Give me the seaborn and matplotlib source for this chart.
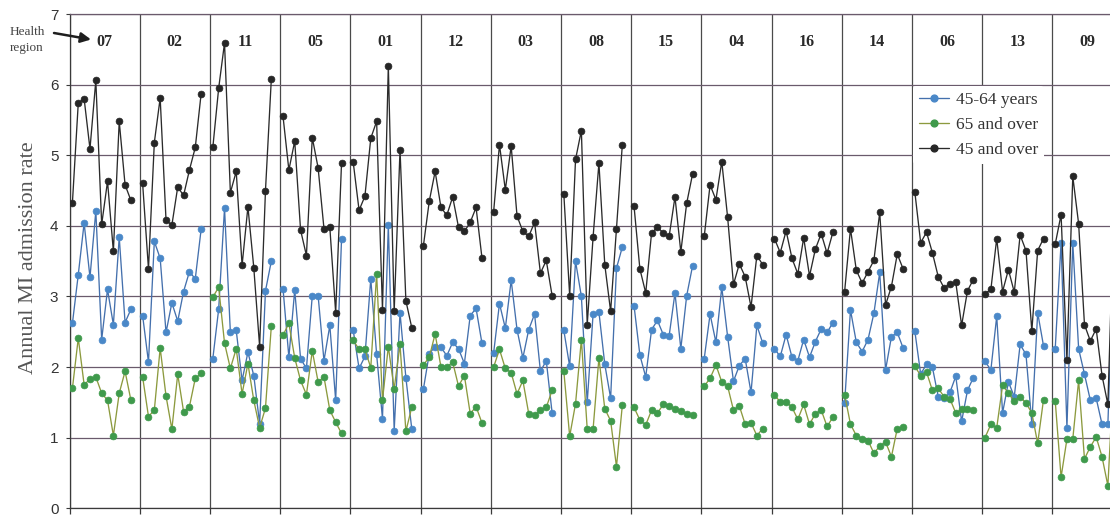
import numpy as np
import pandas as pd
import matplotlib
matplotlib.use("Agg")
import matplotlib.pyplot as plt
import seaborn as sns
from matplotlib.lines import Line2D

# ---------------- data ----------------
regions = ["07", "02", "11", "05", "01", "12", "03", "08", "15", "04", "16", "14", "06", "13", "09"]

rate_45_64 = [
    [2.62, 3.31, 4.04, 3.27, 4.21, 2.39, 3.10, 2.60, 3.84, 2.63, 2.82],
    [2.73, 2.07, 3.78, 3.54, 2.49, 2.91, 2.65, 3.07, 3.35, 3.25, 3.95],
    [2.12, 2.82, 4.25, 2.49, 2.52, 1.81, 2.21, 1.88, 1.20, 3.08, 3.50],
    [3.11, 2.14, 3.09, 2.12, 1.98, 3.01, 3.01, 2.09, 2.59, 1.53, 3.81],
    [2.52, 1.98, 2.15, 3.25, 2.18, 1.27, 4.01, 1.10, 2.77, 1.85, 1.13],
    [1.69, 2.19, 2.29, 2.28, 2.16, 2.35, 2.26, 2.05, 2.73, 2.83, 2.34],
    [2.20, 2.90, 2.55, 3.23, 2.53, 2.13, 2.53, 2.75, 1.94, 2.09, 1.35],
    [2.52, 2.01, 3.50, 3.00, 1.50, 2.75, 2.78, 2.04, 1.56, 3.40, 3.70],
    [2.87, 2.17, 1.86, 2.53, 2.66, 2.46, 2.44, 3.05, 2.26, 3.01, 3.43],
    [2.12, 2.75, 2.35, 3.13, 2.43, 1.80, 2.02, 2.12, 1.64, 2.59, 2.34],
    [2.26, 2.15, 2.46, 2.14, 2.09, 2.39, 2.14, 2.36, 2.54, 2.49, 2.63],
    [1.49, 2.81, 2.35, 2.22, 2.39, 2.76, 3.34, 1.96, 2.43, 2.49, 2.27],
    [2.51, 1.90, 2.04, 2.00, 1.58, 1.56, 1.64, 1.87, 1.23, 1.67, 1.85],
    [2.08, 1.96, 2.72, 1.35, 1.79, 1.58, 2.32, 2.18, 1.20, 2.77, 2.30],
    [2.26, 3.76, 1.14, 3.76, 2.26, 1.90, 1.53, 1.56, 1.19, 1.19, 3.62],
]

rate_65_over = [
    [1.70, 2.41, 1.75, 1.83, 1.86, 1.63, 1.53, 1.03, 1.63, 1.94, 1.53],
    [1.86, 1.30, 1.39, 2.27, 1.59, 1.12, 1.90, 1.37, 1.44, 1.84, 1.91],
    [2.99, 3.13, 2.34, 1.98, 2.26, 1.62, 2.05, 1.53, 1.14, 1.42, 2.58],
    [2.45, 2.62, 2.13, 1.81, 1.61, 2.23, 1.79, 1.86, 1.39, 1.22, 1.06],
    [2.38, 2.25, 2.25, 1.99, 3.32, 1.53, 2.29, 1.69, 2.32, 1.09, 1.43],
    [2.03, 2.14, 2.47, 2.00, 2.00, 2.07, 1.73, 1.88, 1.34, 1.44, 1.21],
    [2.00, 2.25, 1.98, 1.92, 1.62, 1.81, 1.34, 1.32, 1.39, 1.43, 1.67],
    [1.94, 1.02, 1.48, 2.39, 1.12, 1.12, 2.13, 1.41, 1.24, 0.59, 1.46],
    [1.43, 1.25, 1.18, 1.39, 1.35, 1.47, 1.45, 1.41, 1.38, 1.33, 1.32],
    [1.73, 1.84, 2.03, 1.79, 1.73, 1.39, 1.45, 1.19, 1.21, 1.03, 1.13],
    [1.60, 1.51, 1.51, 1.43, 1.26, 1.47, 1.19, 1.34, 1.39, 1.16, 1.29],
    [1.61, 1.19, 1.03, 0.98, 0.96, 0.78, 0.88, 0.94, 0.73, 1.13, 1.15],
    [2.01, 1.88, 1.93, 1.67, 1.70, 1.58, 1.55, 1.35, 1.40, 1.41, 1.39],
    [1.00, 1.19, 1.14, 1.74, 1.63, 1.52, 1.58, 1.49, 1.35, 0.92, 1.54],
    [1.52, 0.44, 0.98, 0.98, 1.81, 0.70, 0.87, 1.01, 0.73, 0.32, 1.90],
]

rate_45_over = [
    [4.33, 5.74, 5.80, 5.09, 6.06, 4.02, 4.63, 3.64, 5.48, 4.58, 4.36],
    [4.60, 3.39, 5.18, 5.81, 4.08, 4.01, 4.55, 4.43, 4.79, 5.11, 5.87],
    [5.11, 5.95, 6.59, 4.47, 4.77, 3.44, 4.27, 3.41, 2.29, 4.50, 6.08],
    [5.55, 4.79, 5.20, 3.94, 3.58, 5.25, 4.82, 3.96, 3.98, 2.77, 4.89],
    [4.90, 4.22, 4.42, 5.24, 5.48, 2.81, 6.27, 2.79, 5.08, 2.94, 2.56],
    [3.72, 4.35, 4.77, 4.26, 4.15, 4.41, 3.98, 3.92, 4.05, 4.26, 3.55],
    [4.20, 5.15, 4.51, 5.13, 4.14, 3.92, 3.85, 4.05, 3.33, 3.51, 3.01],
    [4.45, 3.01, 4.94, 5.35, 2.60, 3.84, 4.89, 3.45, 2.79, 3.96, 5.15],
    [4.28, 3.39, 3.05, 3.90, 3.98, 3.90, 3.85, 4.41, 3.63, 4.32, 4.73],
    [3.85, 4.58, 4.37, 4.91, 4.12, 3.17, 3.46, 3.28, 2.85, 3.58, 3.45],
    [3.82, 3.62, 3.93, 3.54, 3.32, 3.83, 3.29, 3.67, 3.89, 3.61, 3.91],
    [3.07, 3.96, 3.37, 3.19, 3.35, 3.51, 4.19, 2.88, 3.14, 3.60, 3.39],
    [4.48, 3.76, 3.91, 3.62, 3.28, 3.12, 3.18, 3.20, 2.59, 3.08, 3.24],
    [3.04, 3.10, 3.82, 3.07, 3.38, 3.06, 3.87, 3.65, 2.51, 3.65, 3.82],
    [3.74, 4.16, 2.10, 4.70, 4.03, 2.60, 2.37, 2.54, 1.88, 1.47, 4.18],
]

series_labels = ["45-64 years", "65 and over", "45 and over"]
y_ticks = [0, 1, 2, 3, 4, 5, 6, 7]
y_label = "Annual MI admission rate"
region_caption = "Health\nregion"

# ---------------- style ----------------
sns.set_theme(style="white")
plt.rcParams["font.family"] = ["Liberation Serif", "DejaVu Serif"]

SLOTS = 12  # slots per region on the x scale

def to_long(values):
    rows = []
    for r_i, (reg, vals) in enumerate(zip(regions, values)):
        for k, v in enumerate(vals):
            rows.append({"region": reg, "x": r_i * SLOTS + 0.5 + k, "rate": v})
    return pd.DataFrame(rows)

W, H = 1110, 516
fig = plt.figure(figsize=(W / 100, H / 100), dpi=100)
ax = fig.add_axes([69.5 / W, 7.7 / H, (SLOTS * len(regions) * 5.85) / W, 494.3 / H])

styles = [
    # (values, line colour, marker colour)
    (rate_45_64, "#4470ad", "#4a88c8"),
    (rate_65_over, "#8c9a3e", "#3f9a4c"),
    (rate_45_over, "#2b2b2b", "#262626"),
]
MS = 4.9
LW = 0.95
for vals, lc, mc in styles:
    df = to_long(vals)
    sns.lineplot(data=df, x="x", y="rate", units="region", estimator=None,
                 color=lc, marker="o", markersize=MS, linewidth=LW,
                 markerfacecolor=mc, markeredgecolor=mc, markeredgewidth=0.5,
                 ax=ax, legend=False, zorder=3)

# axes, grid
n_slots = SLOTS * len(regions)
ax.set_xlim(0, n_slots)
ax.set_ylim(0, 7)
ax.set_xticks(np.arange(0, n_slots + 1, SLOTS))
ax.set_yticks(y_ticks)
ax.set_yticklabels([str(t) for t in y_ticks])
ax.grid(axis="y", color="#6a5a6c", linewidth=0.9)
ax.grid(axis="x", color="#4a4a4a", linewidth=0.9)
ax.set_axisbelow(True)
ax.set_xlabel("")
ax.set_ylabel("")
for side in ["left", "bottom", "top"]:
    ax.spines[side].set_visible(True)
    ax.spines[side].set_linewidth(0.9)
ax.spines["left"].set_color("#3a3a3a")
ax.spines["bottom"].set_color("#3a3a3a")
ax.spines["top"].set_color("#6a5a6c")
ax.spines["right"].set_visible(False)
ax.tick_params(axis="x", bottom=True, length=4.5, width=0.9, color="#3a3a3a",
               direction="out", labelbottom=False)
ax.tick_params(axis="y", left=True, length=3, width=0.8, color="#3a3a3a",
               direction="out", pad=5, labelsize=11, labelcolor="#333333")
for lbl in ax.get_yticklabels():
    lbl.set_family(["Liberation Sans", "DejaVu Sans"])

# region labels
for r_i, reg in enumerate(regions):
    ax.text(r_i * SLOTS + SLOTS / 2, 6.6, reg, ha="center", va="center",
            fontsize=11.5, fontweight="bold", color="#2a2a2a")

# y label
fig.text(29 / W, 1 - 258 / H, y_label, rotation=90, ha="center", va="center",
         fontsize=16, color="#555555")

# "Health region" caption with arrow
fig.text(27 / W, 1 - 40 / H, region_caption, ha="center", va="center",
         fontsize=9.5, color="#444444", linespacing=1.5)
ax.annotate("", xy=(91 / W, 1 - 39.5 / H), xytext=(54 / W, 1 - 33 / H),
            xycoords="figure fraction", textcoords="figure fraction",
            arrowprops=dict(arrowstyle="-|>", color="#1e1e1e", lw=1.8,
                            mutation_scale=15, shrinkA=0, shrinkB=0))

# legend
handles = [Line2D([0], [0], color=lc, linewidth=LW, marker="o", markersize=MS,
                  markerfacecolor=mc, markeredgecolor=mc)
           for _, lc, mc in styles]
leg = fig.legend(handles, series_labels, loc="upper left",
                 bbox_to_anchor=(913 / W, 1 - 86 / H), bbox_transform=fig.transFigure,
                 frameon=True, fontsize=12.5, handlelength=1.75, handletextpad=0.35,
                 labelspacing=0.5, borderpad=0.35, borderaxespad=0)
leg.get_frame().set_facecolor("white")
leg.get_frame().set_edgecolor("none")
leg.get_frame().set_alpha(1)
for t in leg.get_texts():
    t.set_color("#333333")

fig.savefig("out.png", dpi=100)
